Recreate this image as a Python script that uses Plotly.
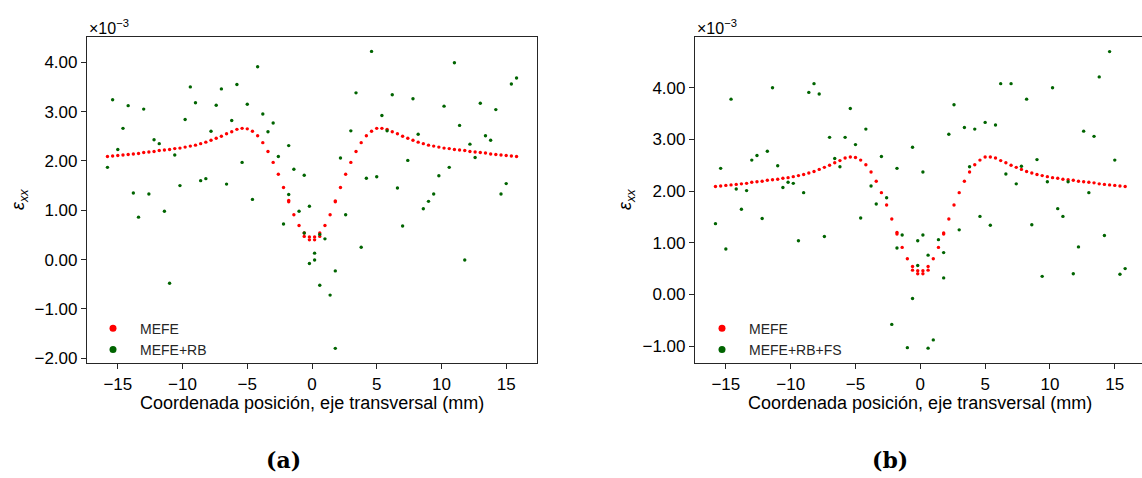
import plotly.graph_objects as go

# Posiciones de los nodos sobre el eje transversal (mm); algunos nodos están duplicados
nodos_x = [
    -15.8, -15.4, -15.0, -14.6, -14.2, -13.8, -13.4, -13.0, -12.6, -12.2,
    -11.8, -11.4, -11.0, -10.6, -10.2, -9.8, -9.4, -9.0, -8.6, -8.2,
    -7.8, -7.4, -7.0, -6.6, -6.2, -5.8, -5.4, -5.0, -4.6, -4.2,
    -3.8, -3.4, -3.0, -2.6, -2.2, -1.8, -1.8, -1.4, -1.0, -0.6,
    -0.6, -0.2, -0.2, 0.2, 0.2, 0.6, 0.6, 1.0, 1.4, 1.8,
    1.8, 2.2, 2.6, 3.0, 3.4, 3.8, 4.2, 4.6, 5.0, 5.4,
    5.8, 6.2, 6.6, 7.0, 7.4, 7.8, 8.2, 8.6, 9.0, 9.4,
    9.8, 10.2, 10.6, 11.0, 11.4, 11.8, 12.2, 12.6, 13.0, 13.4,
    13.8, 14.2, 14.6, 15.0, 15.4, 15.8,
]

# Deformación eps_xx (x1e-3) calculada con MEFE
mefe_y = [
    2.09, 2.10, 2.11, 2.12, 2.13, 2.14, 2.15, 2.17, 2.18, 2.19,
    2.21, 2.22, 2.23, 2.25, 2.26, 2.28, 2.30, 2.32, 2.35, 2.38,
    2.42, 2.46, 2.50, 2.55, 2.59, 2.64, 2.66, 2.65, 2.60, 2.51,
    2.37, 2.19, 1.97, 1.73, 1.46, 1.20, 1.17, 0.91, 0.69, 0.54,
    0.47, 0.46, 0.40, 0.46, 0.40, 0.54, 0.47, 0.69, 0.91, 1.19,
    1.17, 1.46, 1.73, 1.97, 2.19, 2.37, 2.51, 2.60, 2.66, 2.66,
    2.64, 2.59, 2.55, 2.50, 2.46, 2.42, 2.38, 2.35, 2.32, 2.30,
    2.28, 2.26, 2.25, 2.23, 2.22, 2.21, 2.19, 2.18, 2.17, 2.16,
    2.14, 2.13, 2.12, 2.11, 2.10, 2.09,
]

# MEFE con ruido blanco (RB)
rb_y = [
    1.87, 3.24, 2.23, 2.66, 3.12, 1.35, 0.86, 3.05, 1.33, 2.43,
    2.35, 0.98, -0.48, 2.12, 1.50, 2.84, 3.50, 3.18, 1.60, 1.64,
    2.60, 3.13, 3.46, 1.53, 2.82, 3.55, 1.97, 3.15, 1.22, 3.91,
    2.95, 2.59, 2.77, 2.09, 0.72, 2.31, 1.32, 1.83, 0.98, 1.71,
    0.54, 1.08, -0.08, 0.13, -0.01, 0.51, -0.52, 0.42, -0.72, -0.23,
    -1.80, 2.06, 0.91, 2.61, 3.38, 0.25, 1.65, 4.22, 1.68, 2.92,
    2.61, 3.34, 1.45, 0.68, 2.01, 3.26, 2.54, 1.03, 1.18, 1.33,
    1.70, 3.11, 1.87, 3.99, 2.72, -0.01, 2.34, 2.07, 3.17, 2.51,
    2.42, 3.04, 1.33, 1.54, 3.56, 3.68,
]

# MEFE con ruido blanco y fallo de sensor (RB+FS)
fs_y = [
    1.37, 2.44, 0.88, 3.78, 2.04, 1.65, 2.01, 2.60, 2.69, 1.47,
    2.77, 4.00, 2.49, 2.07, 2.17, 2.15, 1.04, 1.97, 3.91, 4.08,
    3.88, 1.12, 3.04, 2.63, 2.47, 3.04, 3.60, 2.90, 1.48, 3.20,
    2.10, 1.75, 2.67, 1.87, -0.58, 2.44, 0.90, 1.15, -1.03, 2.85,
    -0.08, 1.04, 0.56, 2.37, 1.15, 0.76, -1.04, -0.88, 1.06, 0.81,
    0.32, 3.10, 3.67, 1.25, 3.23, 2.47, 3.20, 1.51, 3.33, 1.34,
    3.28, 4.08, 2.33, 4.08, 2.14, 2.48, 3.78, 1.35, 2.61, 0.35,
    2.18, 4.00, 1.66, 1.51, 2.18, 0.40, 0.92, 3.16, 1.97, 3.06,
    4.21, 1.14, 4.70, 2.60, 0.39, 0.50,
]

x_ticks = [-15, -10, -5, 0, 5, 10, 15]
y_ticks_a = [-2, -1, 0, 1, 2, 3, 4]
y_ticks_b = [-1, 0, 1, 2, 3, 4]

ROJO = "#ff0000"
VERDE = "#006400"
FONT = "Liberation Sans, Arial, sans-serif"
EJE = "#262626"

W, H = 1142, 478


def px_x(p):
    return p / W


def px_y(p):
    return 1 - p / H


fig = go.Figure()

paneles = [
    ("x", "y", rb_y, "MEFE+RB", "legend"),
    ("x2", "y2", fs_y, "MEFE+RB+FS", "legend2"),
]
for xa, ya, verde_y, nombre, leyenda in paneles:
    fig.add_trace(go.Scatter(
        x=nodos_x, y=mefe_y, mode="markers", xaxis=xa, yaxis=ya,
        marker=dict(color=ROJO, size=3.4, line=dict(width=0)),
        showlegend=False, hoverinfo="skip",
    ))
    fig.add_trace(go.Scatter(
        x=nodos_x, y=verde_y, mode="markers", xaxis=xa, yaxis=ya,
        marker=dict(color=VERDE, size=3.4, line=dict(width=0)),
        showlegend=False, hoverinfo="skip",
    ))
    # Entradas de leyenda con marcador ampliado
    for color, etiqueta in ((ROJO, "MEFE"), (VERDE, nombre)):
        fig.add_trace(go.Scatter(
            x=[None], y=[None], mode="markers", xaxis=xa, yaxis=ya,
            marker=dict(color=color, size=7), name=etiqueta, legend=leyenda,
        ))

eje_comun = dict(
    showline=True, linecolor=EJE, linewidth=1.2, showgrid=False, zeroline=False,
    ticks="outside", ticklen=5, tickwidth=1.1, tickcolor=EJE,
    tickfont=dict(family=FONT, size=17, color="black"),
)

leyenda_comun = dict(
    xanchor="left", yanchor="top", bgcolor="rgba(0,0,0,0)", borderwidth=0,
    itemwidth=44, font=dict(family=FONT, size=14, color="#262626"),
)

y_dom = [px_y(367), px_y(37)]
fig.update_layout(
    width=W, height=H,
    margin=dict(l=0, r=0, t=0, b=0),
    paper_bgcolor="white", plot_bgcolor="white",
    xaxis=dict(eje_comun, domain=[px_x(87), px_x(537)], range=[-17.38, 17.38],
               tickvals=x_ticks, mirror=True, anchor="y"),
    yaxis=dict(eje_comun, domain=y_dom, range=[-2.10, 4.52],
               tickvals=y_ticks_a, tickformat=".2f", mirror=True, anchor="x"),
    xaxis2=dict(eje_comun, domain=[px_x(695), 1.0], range=[-17.38, 17.10],
                tickvals=x_ticks, mirror=True, anchor="y2"),
    yaxis2=dict(eje_comun, domain=y_dom, range=[-1.33, 4.99],
                tickvals=y_ticks_b, tickformat=".2f", anchor="x2"),
    legend=dict(leyenda_comun, x=px_x(86), y=px_y(316)),
    legend2=dict(leyenda_comun, x=px_x(695), y=px_y(316)),
)

textos = [
    # factor de escala
    dict(x=px_x(87), y=px_y(27), text="×10<sup>−3</sup>", xanchor="left",
         yanchor="middle", font=dict(family=FONT, size=16, color="black")),
    dict(x=px_x(695), y=px_y(27), text="×10<sup>−3</sup>", xanchor="left",
         yanchor="middle", font=dict(family=FONT, size=16, color="black")),
    # títulos de ejes
    dict(x=px_x(20), y=px_y(202), text="<i>ε</i><sub><i>xx</i></sub>", textangle=-90,
         xanchor="center", yanchor="middle", font=dict(family=FONT, size=18, color="black")),
    dict(x=px_x(627), y=px_y(202), text="<i>ε</i><sub><i>xx</i></sub>", textangle=-90,
         xanchor="center", yanchor="middle", font=dict(family=FONT, size=18, color="black")),
    dict(x=px_x(312), y=px_y(407), text="Coordenada posición, eje transversal (mm)",
         xanchor="center", yanchor="middle", font=dict(family=FONT, size=18, color="black")),
    dict(x=px_x(920), y=px_y(407), text="Coordenada posición, eje transversal (mm)",
         xanchor="center", yanchor="middle", font=dict(family=FONT, size=18, color="black")),
    # subfiguras
    dict(x=px_x(283), y=px_y(465), text="<b>(a)</b>", xanchor="center", yanchor="middle",
         font=dict(family="DejaVu Serif, serif", size=22, color="black")),
    dict(x=px_x(890), y=px_y(465), text="<b>(b)</b>", xanchor="center", yanchor="middle",
         font=dict(family="DejaVu Serif, serif", size=22, color="black")),
]
for t in textos:
    fig.add_annotation(xref="paper", yref="paper", showarrow=False, **t)

fig.write_html("out.html")
